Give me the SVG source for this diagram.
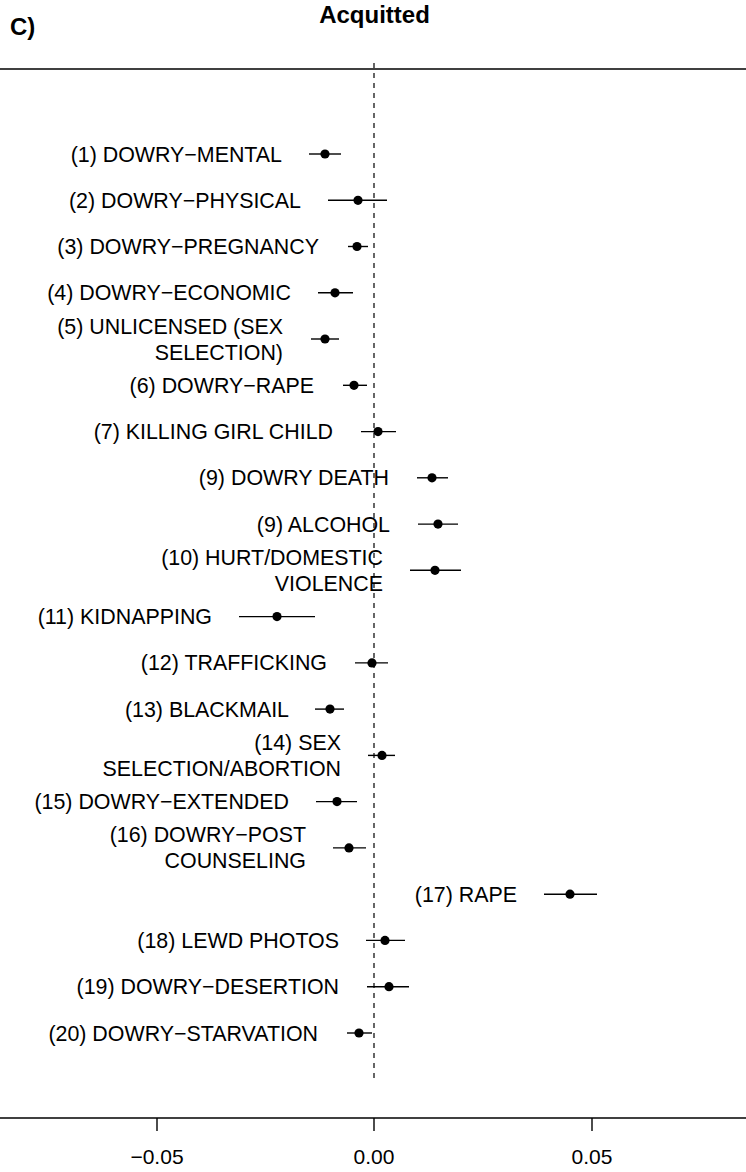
<svg xmlns="http://www.w3.org/2000/svg" width="746" height="1172" viewBox="0 0 746 1172">
<style>
text{font-family:"Liberation Sans",Arial,Helvetica,sans-serif;fill:#000}
.lbl{font-size:21.4px;text-anchor:end}
.tick{font-size:21px;text-anchor:middle}
.ci{stroke:#000;stroke-width:1.4;fill:none}
.dot{fill:#000}
.ax{stroke:#000;stroke-width:1.4;fill:none}
</style>
<rect width="746" height="1172" fill="#fff"/>
<text x="10" y="35" font-size="24" font-weight="bold">C)</text>
<text x="374.5" y="23" font-size="24" font-weight="bold" text-anchor="middle">Acquitted</text>
<g id="axes">
<line class="ax" x1="0" y1="69" x2="746" y2="69"/>
<line class="ax" x1="0" y1="1118" x2="746" y2="1118"/>
<line class="ax" x1="157" y1="1118" x2="157" y2="1131"/>
<line class="ax" x1="374" y1="1118" x2="374" y2="1131"/>
<line class="ax" x1="592" y1="1118" x2="592" y2="1131"/>
<text class="tick" x="157" y="1164">−0.05</text>
<text class="tick" x="374" y="1164">0.00</text>
<text class="tick" x="592" y="1164">0.05</text>
</g>
<g id="connectors">
<line x1="374" y1="63" x2="374" y2="1078" stroke="#000" stroke-width="1.2" stroke-dasharray="5,5"/>
</g>
<g id="r1"><text class="lbl" x="282" y="161.5">(1) DOWRY−MENTAL</text><line class="ci" x1="309" y1="154" x2="341" y2="154"/><circle class="dot" cx="325" cy="154" r="4.6"/></g>
<g id="r2"><text class="lbl" x="301" y="207.8">(2) DOWRY−PHYSICAL</text><line class="ci" x1="328" y1="200.3" x2="387" y2="200.3"/><circle class="dot" cx="358" cy="200.3" r="4.6"/></g>
<g id="r3"><text class="lbl" x="319" y="254">(3) DOWRY−PREGNANCY</text><line class="ci" x1="348" y1="246.5" x2="368" y2="246.5"/><circle class="dot" cx="357" cy="246.5" r="4.6"/></g>
<g id="r4"><text class="lbl" x="291" y="300.3">(4) DOWRY−ECONOMIC</text><line class="ci" x1="318" y1="292.8" x2="353" y2="292.8"/><circle class="dot" cx="335" cy="292.8" r="4.6"/></g>
<g id="r5"><text class="lbl" x="283" y="333.5">(5) UNLICENSED (SEX</text><text class="lbl" x="283" y="359.5">SELECTION)</text><line class="ci" x1="311" y1="339" x2="339" y2="339"/><circle class="dot" cx="325" cy="339" r="4.6"/></g>
<g id="r6"><text class="lbl" x="314" y="392.8">(6) DOWRY−RAPE</text><line class="ci" x1="343" y1="385.3" x2="367" y2="385.3"/><circle class="dot" cx="354" cy="385.3" r="4.6"/></g>
<g id="r7"><text class="lbl" x="333" y="439.1">(7) KILLING GIRL CHILD</text><line class="ci" x1="361" y1="431.6" x2="396" y2="431.6"/><circle class="dot" cx="378" cy="431.6" r="4.6"/></g>
<g id="r8"><text class="lbl" x="389" y="485.3">(9) DOWRY DEATH</text><line class="ci" x1="417" y1="477.8" x2="448" y2="477.8"/><circle class="dot" cx="432" cy="477.8" r="4.6"/></g>
<g id="r9"><text class="lbl" x="390" y="531.6">(9) ALCOHOL</text><line class="ci" x1="418" y1="524.1" x2="458" y2="524.1"/><circle class="dot" cx="438" cy="524.1" r="4.6"/></g>
<g id="r10"><text class="lbl" x="383" y="564.8">(10) HURT/DOMESTIC</text><text class="lbl" x="383" y="590.8">VIOLENCE</text><line class="ci" x1="410" y1="570.3" x2="461" y2="570.3"/><circle class="dot" cx="435" cy="570.3" r="4.6"/></g>
<g id="r11"><text class="lbl" x="212" y="624.1">(11) KIDNAPPING</text><line class="ci" x1="239" y1="616.6" x2="315" y2="616.6"/><circle class="dot" cx="277" cy="616.6" r="4.6"/></g>
<g id="r12"><text class="lbl" x="327" y="670.4">(12) TRAFFICKING</text><line class="ci" x1="355" y1="662.9" x2="388" y2="662.9"/><circle class="dot" cx="372" cy="662.9" r="4.6"/></g>
<g id="r13"><text class="lbl" x="289" y="716.6">(13) BLACKMAIL</text><line class="ci" x1="315" y1="709.1" x2="344" y2="709.1"/><circle class="dot" cx="330" cy="709.1" r="4.6"/></g>
<g id="r14"><text class="lbl" x="341" y="749.9">(14) SEX</text><text class="lbl" x="341" y="775.9">SELECTION/ABORTION</text><line class="ci" x1="368" y1="755.4" x2="395" y2="755.4"/><circle class="dot" cx="382" cy="755.4" r="4.6"/></g>
<g id="r15"><text class="lbl" x="289" y="809.1">(15) DOWRY−EXTENDED</text><line class="ci" x1="316" y1="801.6" x2="357" y2="801.6"/><circle class="dot" cx="337" cy="801.6" r="4.6"/></g>
<g id="r16"><text class="lbl" x="306" y="842.4">(16) DOWRY−POST</text><text class="lbl" x="306" y="868.4">COUNSELING</text><line class="ci" x1="333" y1="847.9" x2="366" y2="847.9"/><circle class="dot" cx="349" cy="847.9" r="4.6"/></g>
<g id="r17"><text class="lbl" x="517" y="901.7">(17) RAPE</text><line class="ci" x1="544" y1="894.2" x2="597" y2="894.2"/><circle class="dot" cx="570" cy="894.2" r="4.6"/></g>
<g id="r18"><text class="lbl" x="339" y="947.9">(18) LEWD PHOTOS</text><line class="ci" x1="366" y1="940.4" x2="405" y2="940.4"/><circle class="dot" cx="385" cy="940.4" r="4.6"/></g>
<g id="r19"><text class="lbl" x="339" y="994.2">(19) DOWRY−DESERTION</text><line class="ci" x1="367" y1="986.7" x2="409" y2="986.7"/><circle class="dot" cx="389" cy="986.7" r="4.6"/></g>
<g id="r20"><text class="lbl" x="318" y="1040.5">(20) DOWRY−STARVATION</text><line class="ci" x1="347" y1="1033" x2="372" y2="1033"/><circle class="dot" cx="359" cy="1033" r="4.6"/></g>
</svg>
